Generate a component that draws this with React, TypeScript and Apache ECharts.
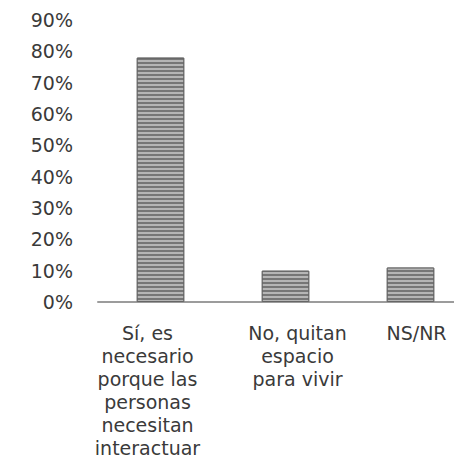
import React, { useEffect, useRef } from "react";
import * as echarts from "echarts";

const categories = [
  "Sí, es\nnecesario\nporque las\npersonas\nnecesitan\ninteractuar",
  "No, quitan\nespacio\npara vivir",
  "NS/NR",
];
const values = [78, 10, 11];
const yTicks = { min: 0, max: 90, interval: 10 };

export default function App() {
  const ref = useRef<HTMLDivElement>(null);
  useEffect(() => {
    if (!ref.current) return;
    const chart = echarts.init(ref.current, undefined, { renderer: "svg" });
    const shifts = [-13, 12, 6];
    chart.setOption({
      animation: false,
      backgroundColor: "#ffffff",
      grid: { left: 98, right: 0, top: 20, bottom: 168, containLabel: false },
      xAxis: {
        type: "category",
        data: categories.map((c, i) => ({
          value: c,
          textStyle: {
            padding: shifts[i] >= 0 ? [0, 0, 0, shifts[i] * 2] : [0, -shifts[i] * 2, 0, 0],
          },
        })),
        axisLine: { show: true, lineStyle: { color: "#9c9c9c", width: 2 } },
        axisTick: { show: false },
        axisLabel: {
          interval: 0,
          margin: 19,
          color: "#3a3a3a",
          fontFamily: "DejaVu Sans",
          fontSize: 19,
          lineHeight: 23,
          align: "center",
          verticalAlign: "top",
        },
      },
      yAxis: {
        type: "value",
        min: yTicks.min,
        max: yTicks.max,
        interval: yTicks.interval,
        axisLine: { show: false },
        axisTick: { show: false },
        splitLine: { show: false },
        axisLabel: {
          formatter: "{value}%",
          margin: 25,
          color: "#3a3a3a",
          fontFamily: "DejaVu Sans",
          fontSize: 19,
        },
      },
      series: [
        {
          type: "bar",
          data: values,
          barWidth: "38%",
          itemStyle: {
            color: "#767676",
            borderColor: "#666666",
            borderWidth: 1,
            decal: {
              symbol: "rect",
              symbolSize: 1,
              color: "#b5b5b5",
              dashArrayX: [1, 0],
              dashArrayY: [2, 2],
              rotation: 0,
            },
          },
        },
      ],
    });
    return () => chart.dispose();
  }, []);
  return (
    <div style={{ position: "absolute", left: 0, top: 0, width: 454, height: 470, overflow: "hidden" }}>
      <div ref={ref} style={{ width: 473, height: 470 }} />
    </div>
  );
}
